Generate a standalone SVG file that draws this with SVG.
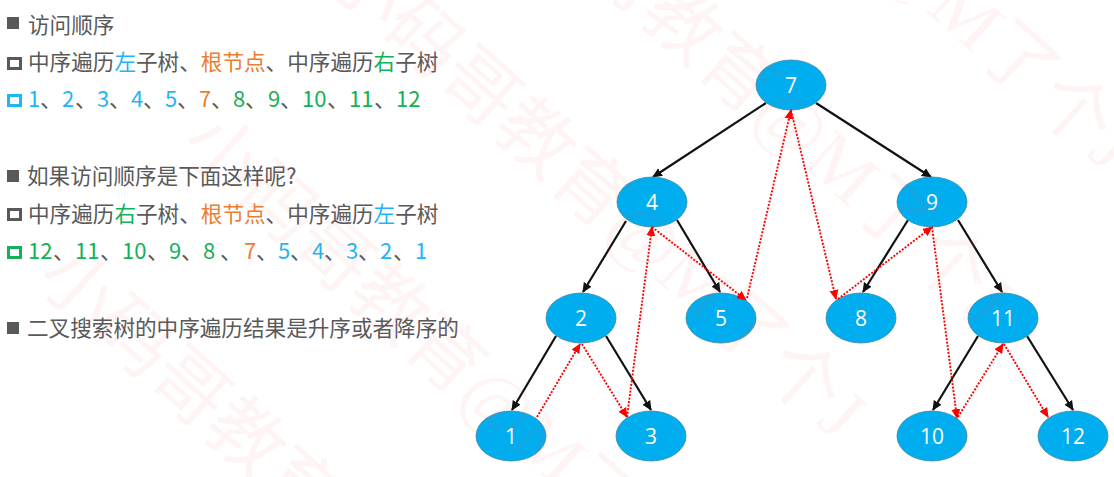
<svg xmlns="http://www.w3.org/2000/svg" width="1114" height="477" viewBox="0 0 1114 477">
<style>
text{font-family:"Noto Sans CJK SC","Open Sans",sans-serif}
.wm{font-family:"Liberation Serif","Noto Sans CJK SC",serif;font-size:75px;fill:#f06060;fill-opacity:.07}
.t{font-size:21.6px;fill:#595959}
.d{font-size:22px}
.b{fill:#1fb6f6}.o{fill:#ed7d31}.g{fill:#13b159}
.sq{fill:none;stroke-width:3}
.node ellipse{fill:#00adef;stroke:#3e87a8;stroke-width:.8}
.node text{font-size:21px;fill:#fff;text-anchor:middle;font-family:"Open Sans",sans-serif}
.blk{stroke:#111;stroke-width:2.2;fill:none;marker-end:url(#ab)}
.red{stroke:#f00;stroke-width:1.9;stroke-dasharray:2 1.5;fill:none;marker-end:url(#ar)}
</style>
<defs>
<marker id="ab" markerUnits="userSpaceOnUse" markerWidth="11" markerHeight="10" refX="9" refY="5" orient="auto"><path d="M0 0.5L10 5L0 9.5z" fill="#111"/></marker>
<marker id="ar" markerUnits="userSpaceOnUse" markerWidth="11" markerHeight="10" refX="9" refY="5" orient="auto"><path d="M0 0.5L10 5L0 9.5z" fill="#f00"/></marker>
</defs>
<rect width="1114" height="477" fill="#fff"/>
<g id="text">
<rect x="7" y="17" width="12" height="12" fill="#595959"/>
<text class="t" x="28" y="33">访问顺序</text>
<rect x="8.500" y="58.500" width="12" height="10" class="sq" stroke="#595959"/>
<text class="t" x="28" y="70">中序遍历<tspan class="b">左</tspan>子树、<tspan class="o">根节点</tspan>、中序遍历<tspan class="g">右</tspan>子树</text>
<rect x="8.500" y="95.500" width="12" height="10" class="sq" stroke="#1fb6f6"/>
<text class="t d" y="107"><tspan class="b" x="28">1</tspan><tspan x="40">、</tspan><tspan class="b" x="62">2</tspan><tspan x="75">、</tspan><tspan class="b" x="97">3</tspan><tspan x="109">、</tspan><tspan class="b" x="131">4</tspan><tspan x="143">、</tspan><tspan class="b" x="165">5</tspan><tspan x="177">、</tspan><tspan class="o" x="199">7</tspan><tspan x="211">、</tspan><tspan class="g" x="233">8</tspan><tspan x="245">、</tspan><tspan class="g" x="268">9</tspan><tspan x="280">、</tspan><tspan class="g" x="302">10</tspan><tspan x="327">、</tspan><tspan class="g" x="349">11</tspan><tspan x="374">、</tspan><tspan class="g" x="396">12</tspan></text>
<rect x="7" y="170" width="12" height="12" fill="#595959"/>
<text class="t" x="27" y="184">如果访问顺序是下面这样呢?</text>
<rect x="8.500" y="209.500" width="12" height="10" class="sq" stroke="#595959"/>
<text class="t" x="28" y="222">中序遍历<tspan class="g">右</tspan>子树、<tspan class="o">根节点</tspan>、中序遍历<tspan class="b">左</tspan>子树</text>
<rect x="8.500" y="247.500" width="12" height="10" class="sq" stroke="#13b159"/>
<text class="t d" y="259"><tspan class="g" x="28">12</tspan><tspan x="53">、</tspan><tspan class="g" x="75">11</tspan><tspan x="100">、</tspan><tspan class="g" x="122">10</tspan><tspan x="147">、</tspan><tspan class="g" x="169">9</tspan><tspan x="181">、</tspan><tspan class="g" x="203">8</tspan><tspan x="220">、</tspan><tspan class="o" x="244">7</tspan><tspan x="256">、</tspan><tspan class="b" x="278">5</tspan><tspan x="290">、</tspan><tspan class="b" x="312">4</tspan><tspan x="324">、</tspan><tspan class="b" x="346">3</tspan><tspan x="358">、</tspan><tspan class="b" x="380">2</tspan><tspan x="393">、</tspan><tspan class="b" x="415">1</tspan></text>
<rect x="7" y="322" width="12" height="12" fill="#595959"/>
<text class="t" x="27" y="336">二叉搜索树的中序遍历结果是升序或者降序的</text>
</g>
<g id="connectors">
<path class="blk" d="M766 103L653 177"/>
<path class="blk" d="M816 103L931 177"/>
<path class="blk" d="M626 221L583 292"/>
<path class="blk" d="M677 220L720 292"/>
<path class="blk" d="M556 336L512 410"/>
<path class="blk" d="M606 336L651 410"/>
<path class="blk" d="M908 220L863 292"/>
<path class="blk" d="M958 220L1002 292"/>
<path class="blk" d="M978 336L933 410"/>
<path class="blk" d="M1027 336L1073 410"/>
</g>
<g id="n7" class="node"><ellipse cx="791" cy="85" rx="35" ry="25"/><text x="791" y="93">7</text></g>
<g id="n4" class="node"><ellipse cx="652" cy="202" rx="35" ry="25"/><text x="652" y="210">4</text></g>
<g id="n9" class="node"><ellipse cx="932" cy="202" rx="35" ry="25"/><text x="932" y="210">9</text></g>
<g id="n2" class="node"><ellipse cx="581" cy="318" rx="35" ry="25"/><text x="581" y="326">2</text></g>
<g id="n5" class="node"><ellipse cx="721" cy="318" rx="35" ry="25"/><text x="721" y="326">5</text></g>
<g id="n8" class="node"><ellipse cx="861" cy="318" rx="35" ry="25"/><text x="861" y="326">8</text></g>
<g id="n11" class="node"><ellipse cx="1003" cy="318" rx="35" ry="25"/><text x="1003" y="326">11</text></g>
<g id="n1" class="node"><ellipse cx="511" cy="436" rx="35" ry="25"/><text x="511" y="444">1</text></g>
<g id="n3" class="node"><ellipse cx="651" cy="436" rx="35" ry="25"/><text x="651" y="444">3</text></g>
<g id="n10" class="node"><ellipse cx="932" cy="436" rx="35" ry="25"/><text x="932" y="444">10</text></g>
<g id="n12" class="node"><ellipse cx="1073" cy="436" rx="35" ry="25"/><text x="1073" y="444">12</text></g>
<g id="traversal">
<path class="red" d="M537 417L580 344"/>
<path class="red" d="M582 344L627 417"/>
<path class="red" d="M627 417L652 227"/>
<path class="red" d="M652 227L746 300"/>
<path class="red" d="M747 298L791 110"/>
<path class="red" d="M791 110L836 299"/>
<path class="red" d="M838 299L932 227"/>
<path class="red" d="M932 227L957 418"/>
<path class="red" d="M958 417L1003 344"/>
<path class="red" d="M1004 344L1048 417"/>
</g>
<g id="watermark">
<text class="wm" transform="translate(480,87) rotate(42)" x="-187" y="26">小码哥教育@M了个J</text>
<text class="wm" transform="translate(627,-27) rotate(42)" x="-187" y="26">小码哥教育@M了个J</text>
<text class="wm" transform="translate(190,387) rotate(42)" x="-187" y="26">小码哥教育@M了个J</text>
<text class="wm" transform="translate(334,253) rotate(42)" x="-187" y="26">小码哥教育@M了个J</text>
<text class="wm" transform="translate(751,-181) rotate(42)" x="-187" y="26">小码哥教育@M了个J</text>
</g>
</svg>
